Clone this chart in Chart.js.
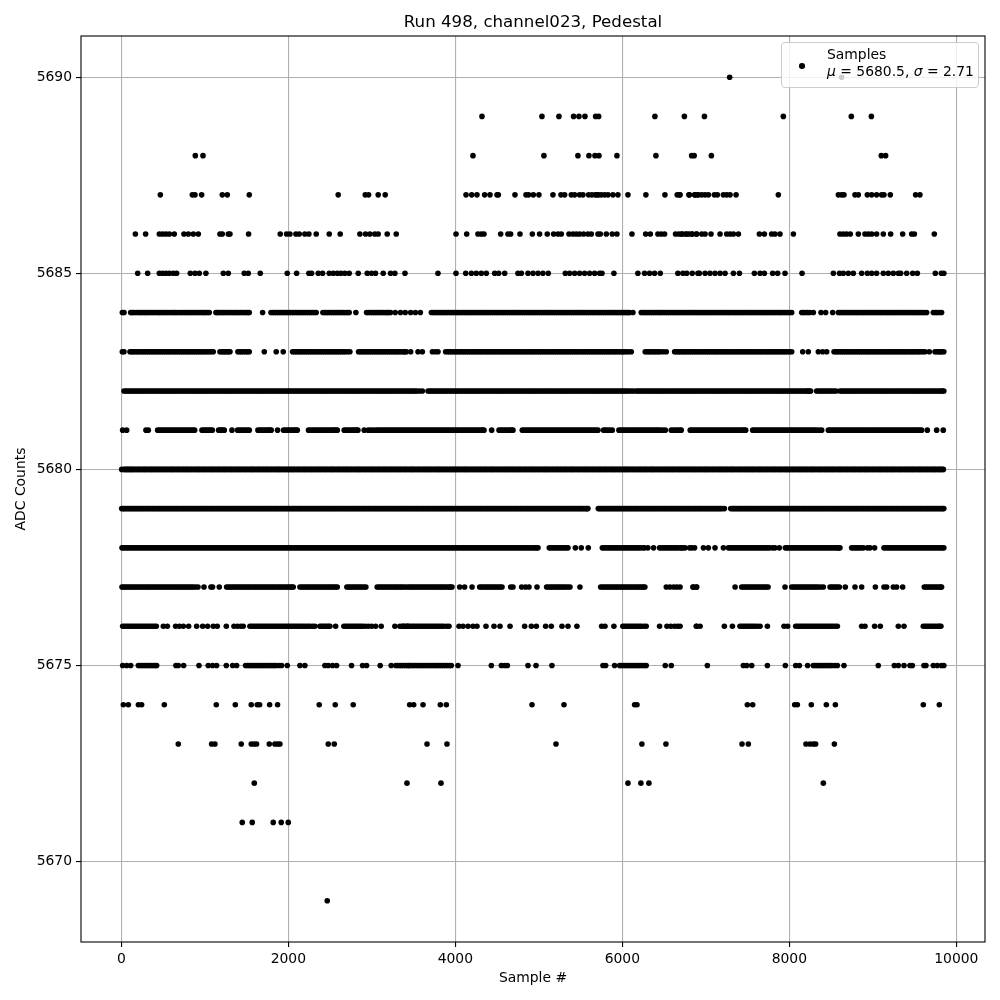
<!DOCTYPE html>
<html>
<head>
<meta charset="utf-8">
<title>Run 498, channel023, Pedestal</title>
<script src="https://cdn.jsdelivr.net/npm/chart.js@4"></script>
<style>
  body { margin: 0; background: #fff; }
  #wrap { position: relative; width: 1000px; height: 1000px; }
  #legend {
    position: absolute; left: 781px; top: 42px; width: 196px; height: 44px;
    border: 1px solid #ccc; border-radius: 4px; background: rgba(255,255,255,0.8);
    font: 13.9px "DejaVu Sans"; color: #000; line-height: 17px;
  }
  #legend .dot { position: absolute; left: 17px; top: 20px; width: 5.5px; height: 5.5px; border-radius: 50%; background: #000; }
  #legend .txt { position: absolute; left: 45px; top: 3px; white-space: nowrap; }
</style>
</head>
<body>
<div id="wrap">
  <canvas id="chart" width="1000" height="1000"></canvas>
  <div id="legend"><span class="dot"></span><div class="txt">Samples<br><i>μ</i> = 5680.5, <i>σ</i> = 2.71</div></div>
</div>
<script>
// tick labels
const xTicks = [0, 2000, 4000, 6000, 8000, 10000];
const yTicks = [5670, 5675, 5680, 5685, 5690];

// sample numbers, one list per ADC level
const s5690 = [7285, 8626];
const s5689 = [4319,5037,5241,5416,5480,5552,5680,5716,6390,6743,6983,7928,8742,8982];
const s5688 = [886,978,4211,5061,5468,5600,5672,5720,5935,6402,6830,6860,7066,9101,9153];
const s5687 = [467,850,882,962,1209,1269,1532,2597,2921,2961,3076,3160,4128,4196,4259,4351,4415,4499,4515,4714,4846,4878,4934,5001,5169,5265,5309,5389,5429,5488,5528,5596,5636,5676,5696,5716,5748,5788,5828,5887,5947,6067,6282,6510,6657,6685,6797,6865,6897,6691,6803,6871,6911,6951,6991,7031,7102,7138,7210,7250,7290,7362,7868,8587,8626,8654,8786,8826,8934,8986,9045,9105,9133,9209,9512,9564];
const s5686 = [168,291,455,495,535,575,634,750,802,862,922,1181,1209,1281,1301,1524,1903,1979,2019,2091,2131,2198,2246,2334,2490,2621,2857,2925,2977,3036,3076,3184,3292,4008,4136,4271,4311,4343,4543,4630,4662,4774,4922,5009,5101,5177,5229,5269,5361,5409,5449,5489,5536,5588,5628,5708,5736,5808,5879,5935,6115,6279,6335,6426,6466,6506,6637,6677,6717,6757,6797,6837,6885,6711,6771,6831,6891,6951,6991,7062,7170,7250,7290,7330,7390,7641,7701,7788,7828,7888,8048,8606,8646,8686,8730,8826,8906,8946,8986,9045,9125,9213,9357,9465,9497,9736];
const s5685 = [196,315,455,495,535,575,622,662,826,882,934,1013,1221,1281,1472,1520,1664,1987,2099,2246,2278,2358,2410,2490,2538,2586,2629,2677,2729,2837,2945,2997,3044,3136,3224,3276,3397,3792,4008,4124,4192,4251,4311,4371,4471,4519,4591,4750,4790,4870,4930,4990,5049,5113,5317,5369,5429,5488,5548,5608,5668,5728,5756,5899,6186,6266,6326,6386,6454,6665,6725,6771,6837,6905,6923,6991,7050,7110,7170,7230,7330,7402,7581,7649,7701,7800,7860,7948,8152,8527,8601,8646,8706,8766,8866,8934,8986,9045,9125,9185,9245,9305,9333,9405,9477,9533,9748,9820,9850];
const s5684 = [12,32,112,150,205,248,290,335,380,428,470,515,560,610,650,700,745,790,835,880,925,970,1010,1053,1133,1165,1190,1230,1275,1320,1365,1405,1450,1495,1532,1692,1792,1835,1880,1925,1970,2015,2060,2105,2150,2195,2240,2285,2334,2414,2460,2505,2550,2595,2640,2685,2729,2809,2937,2985,3030,3075,3120,3165,3200,3224,3280,3344,3400,3465,3521,3581,3713,3760,3805,3850,3895,3940,3985,4030,4075,4120,4165,4210,4255,4300,4345,4390,4435,4480,4525,4570,4615,4660,4705,4750,4795,4840,4885,4930,4975,5020,5065,5110,5155,5200,5245,5290,5335,5380,5425,5470,5515,5560,5605,5650,5695,5740,5785,5830,5875,5920,5965,6010,6050,6087,6127,6226,6270,6315,6360,6405,6450,6495,6540,6585,6630,6675,6720,6765,6810,6855,6900,6945,6990,7035,7080,7125,7170,7215,7260,7305,7350,7395,7440,7485,7530,7575,7620,7665,7710,7755,7800,7845,7890,7935,7980,8028,8148,8195,8245,8287,8379,8435,8519,8587,8630,8675,8720,8765,8810,8855,8900,8945,8990,9035,9080,9125,9170,9215,9260,9305,9350,9395,9440,9485,9530,9575,9620,9644,9724,9770,9823];
const more5684 = [130,178,228,270,312,358,405,450,492,538,585,630,675,722,768,812,858,902,948,990,1032,1150,1210,1252,1298,1342,1385,1428,1472,1515,1814,1858,1902,1948,1992,2038,2082,2128,2172,2218,2262,2310,2438,2482,2528,2572,2618,2662,2708,2960,3008,3052,3098,3142,3185,3736,3782,3828,3872,3918,3962,4008,4052,4098,4142,4188,4232,4278,4322,4368,4412,4458,4502,4548,4592,4638,4682,4728,4772,4818,4862,4908,4952,4998,5042,5088,5132,5178,5222,5268,5312,5358,5402,5448,5492,5538,5582,5628,5672,5718,5762,5808,5852,5898,5942,5988,6030,6068,6248,6292,6338,6382,6428,6472,6518,6562,6608,6652,6698,6742,6788,6832,6878,6922,6968,7012,7058,7102,7148,7192,7238,7282,7328,7372,7418,7462,7508,7552,7598,7642,7688,7732,7778,7822,7868,7912,7958,8004,8170,8220,8608,8652,8698,8742,8788,8832,8878,8922,8968,9012,9058,9102,9148,9192,9238,9282,9328,9372,9418,9462,9508,9552,9598,9748,9796];
const s5683 = [12,32,104,145,190,235,280,325,370,415,460,505,550,595,640,685,730,775,820,865,910,955,1000,1050,1101,1181,1225,1265,1301,1396,1440,1490,1532,1712,1855,1939,2051,2095,2140,2185,2230,2275,2320,2365,2410,2455,2500,2545,2590,2635,2680,2737,2841,2885,2930,2975,3020,3065,3110,3155,3200,3245,3290,3335,3380,3413,3465,3553,3605,3725,3760,3792,3884,3930,3975,4020,4065,4110,4155,4200,4245,4290,4335,4380,4425,4470,4515,4560,4605,4650,4695,4740,4785,4830,4875,4920,4965,5010,5055,5100,5145,5190,5235,5280,5325,5370,5415,5460,5505,5550,5595,5640,5685,5730,5775,5820,5865,5910,5955,6000,6045,6107,6274,6320,6365,6410,6455,6526,6626,6670,6715,6760,6805,6850,6895,6940,6985,7030,7075,7120,7165,7210,7255,7300,7345,7390,7435,7480,7525,7570,7615,7660,7705,7750,7795,7840,7885,7930,7975,8028,8160,8227,8347,8399,8447,8535,8580,8625,8670,8715,8760,8805,8850,8895,8940,8985,9030,9075,9120,9165,9210,9255,9300,9345,9390,9435,9480,9525,9570,9624,9676,9744,9790,9825,9850];
const more5683 = [125,168,212,258,302,348,392,438,482,528,572,618,662,708,752,798,842,888,932,978,1025,1075,1203,1245,1283,1418,1465,1511,2073,2118,2162,2208,2252,2298,2342,2388,2432,2478,2522,2568,2612,2658,2708,2863,2908,2952,2998,3042,3088,3132,3178,3222,3268,3312,3358,3396,3908,3952,3998,4042,4088,4132,4178,4222,4268,4312,4358,4402,4448,4492,4538,4582,4628,4672,4718,4762,4808,4852,4898,4942,4988,5032,5078,5122,5168,5212,5258,5302,5348,5392,5438,5482,5528,5572,5618,5662,5708,5752,5798,5842,5888,5932,5978,6022,6075,6298,6342,6388,6432,6490,6648,6692,6738,6782,6828,6872,6918,6962,7008,7052,7098,7142,7188,7232,7278,7322,7368,7412,7458,7502,7548,7592,7638,7682,7728,7772,7818,7862,7908,7952,8000,8558,8602,8648,8692,8738,8782,8828,8872,8918,8962,9008,9052,9098,9142,9188,9232,9278,9322,9368,9412,9458,9502,9548,9596,9767,9808];
const s5682 = [32,75,120,165,210,255,300,345,390,435,480,525,570,615,660,705,750,795,840,885,930,975,1020,1065,1110,1155,1200,1245,1290,1335,1380,1425,1470,1515,1560,1605,1650,1695,1740,1785,1830,1875,1920,1965,2010,2055,2100,2145,2190,2235,2280,2325,2370,2415,2460,2505,2550,2595,2640,2685,2730,2775,2820,2865,2910,2955,3000,3045,3090,3135,3180,3225,3270,3315,3360,3405,3450,3495,3540,3605,3673,3715,3760,3805,3850,3895,3940,3985,4030,4075,4120,4165,4210,4255,4300,4345,4390,4435,4480,4525,4570,4615,4660,4705,4750,4795,4840,4885,4930,4975,5020,5065,5110,5155,5200,5245,5290,5335,5380,5425,5470,5515,5560,5605,5650,5695,5740,5785,5830,5875,5920,5965,6010,6055,6107,6167,6212,6257,6302,6347,6392,6437,6482,6527,6572,6617,6662,6707,6752,6797,6842,6887,6932,6977,7022,7067,7112,7157,7202,7247,7292,7337,7382,7427,7472,7517,7562,7607,7652,7697,7742,7787,7832,7877,7922,7967,8012,8057,8102,8147,8192,8227,8255,8327,8372,8417,8462,8507,8559,8607,8650,8695,8740,8785,8830,8875,8920,8965,9010,9055,9100,9145,9190,9235,9280,9325,9370,9415,9460,9505,9550,9595,9640,9685,9730,9775,9820,9850];
const more5682 = [53,98,142,188,232,278,322,368,412,458,502,548,592,638,682,728,772,818,862,908,952,998,1042,1088,1132,1178,1222,1268,1312,1358,1402,1448,1492,1538,1582,1628,1672,1718,1762,1808,1852,1898,1942,1988,2032,2078,2122,2168,2212,2258,2302,2348,2392,2438,2482,2528,2572,2618,2662,2708,2752,2798,2842,2888,2932,2978,3022,3068,3112,3158,3202,3248,3292,3338,3382,3428,3472,3518,3572,3695,3738,3782,3828,3872,3918,3962,4008,4052,4098,4142,4188,4232,4278,4322,4368,4412,4458,4502,4548,4592,4638,4682,4728,4772,4818,4862,4908,4952,4998,5042,5088,5132,5178,5222,5268,5312,5358,5402,5448,5492,5538,5582,5628,5672,5718,5762,5808,5852,5898,5942,5988,6032,6080,6135,6190,6235,6280,6325,6370,6415,6460,6505,6550,6595,6640,6685,6730,6775,6820,6865,6910,6955,7000,7045,7090,7135,7180,7225,7270,7315,7360,7405,7450,7495,7540,7585,7630,7675,7720,7765,7810,7855,7900,7945,7990,8035,8080,8125,8170,8210,8240,8350,8395,8440,8485,8533,8628,8672,8718,8762,8808,8852,8898,8942,8988,9032,9078,9122,9168,9212,9258,9302,9348,9392,9438,9482,9528,9572,9618,9662,9708,9752,9798,9835];
const s5681 = [16,64,295,323,435,480,525,570,615,660,705,750,795,840,878,966,1010,1050,1089,1165,1200,1233,1325,1392,1440,1485,1532,1636,1680,1725,1765,1795,1871,1943,1990,2035,2075,2107,2242,2290,2335,2380,2425,2470,2515,2555,2586,2669,2715,2760,2800,2833,2909,2957,3016,3048,3095,3140,3185,3230,3275,3320,3365,3410,3455,3500,3545,3590,3635,3680,3725,3770,3815,3860,3905,3950,3995,4040,4085,4130,4175,4220,4265,4310,4343,4435,4523,4570,4615,4660,4690,4802,4850,4895,4940,4985,5030,5075,5120,5165,5210,5255,5300,5345,5390,5435,5480,5525,5570,5615,5660,5708,5776,5820,5879,5959,6005,6050,6095,6140,6185,6230,6275,6320,6365,6410,6455,6514,6586,6640,6691,6705,6813,6855,6900,6945,6990,7035,7080,7125,7170,7215,7260,7305,7350,7395,7440,7477,7561,7605,7650,7695,7740,7785,7830,7875,7920,7965,8010,8055,8100,8145,8190,8235,8280,8325,8387,8467,8510,8555,8600,8645,8690,8735,8780,8825,8870,8915,8960,9005,9050,9095,9140,9185,9230,9275,9320,9365,9410,9455,9500,9545,9584,9652,9764,9843];
const more5681 = [458,502,548,592,638,682,728,772,818,860,988,1030,1070,1182,1216,1416,1462,1510,1658,1702,1745,1780,1966,2012,2055,2091,2266,2312,2358,2402,2448,2492,2535,2570,2692,2738,2780,2816,2985,3072,3118,3162,3208,3252,3298,3342,3388,3432,3478,3522,3568,3612,3658,3702,3748,3792,3838,3882,3928,3972,4018,4062,4108,4152,4198,4242,4288,4326,4546,4592,4638,4675,4826,4872,4918,4962,5008,5052,5098,5142,5188,5232,5278,5322,5368,5412,5458,5502,5548,5592,5638,5684,5798,5850,5982,6028,6072,6118,6162,6208,6252,6298,6342,6388,6432,6485,6612,6665,6834,6878,6922,6968,7012,7058,7102,7148,7192,7238,7282,7328,7372,7418,7458,7583,7628,7672,7718,7762,7808,7852,7898,7942,7988,8032,8078,8122,8168,8212,8258,8302,8356,8488,8532,8578,8622,8668,8712,8758,8802,8848,8892,8938,8982,9028,9072,9118,9162,9208,9252,9298,9342,9388,9432,9478,9522,9565];
const s5680 = [4,30,60,90,120,150,185,215,250,280,310,345,375,410,440,470,505,535,570,600,630,665,695,730,760,790,825,855,890,920,950,985,1015,1050,1080,1110,1145,1175,1210,1240,1270,1305,1335,1370,1400,1430,1465,1495,1530,1560,1590,1625,1655,1690,1720,1750,1785,1815,1850,1880,1910,1945,1975,2010,2040,2070,2105,2135,2170,2200,2230,2265,2295,2330,2360,2390,2425,2455,2490,2520,2550,2585,2615,2650,2680,2710,2745,2775,2810,2840,2870,2905,2935,2970,3000,3030,3065,3095,3130,3160,3190,3225,3255,3290,3320,3350,3385,3415,3450,3480,3510,3545,3575,3610,3640,3670,3705,3735,3770,3800,3830,3865,3895,3930,3960,3990,4025,4055,4090,4120,4150,4185,4215,4250,4280,4310,4345,4375,4410,4440,4470,4505,4535,4570,4600,4630,4665,4695,4730,4760,4790,4825,4855,4890,4920,4950,4985,5015,5050,5080,5110,5145,5175,5210,5240,5270,5305,5335,5370,5400,5430,5465,5495,5530,5560,5590,5625,5655,5690,5720,5750,5785,5815,5850,5880,5910,5945,5975,6010,6040,6070,6105,6135,6170,6200,6230,6265,6295,6330,6360,6390,6425,6455,6490,6520,6550,6585,6615,6650,6680,6710,6745,6775,6810,6840,6870,6905,6935,6970,7000,7030,7065,7095,7130,7160,7190,7225,7255,7290,7320,7350,7385,7415,7450,7480,7510,7545,7575,7610,7640,7670,7705,7735,7770,7800,7830,7865,7895,7930,7960,7990,8025,8055,8090,8120,8150,8185,8215,8250,8280,8310,8345,8375,8410,8440,8470,8505,8535,8570,8600,8630,8665,8695,8730,8760,8790,8825,8855,8890,8920,8950,8985,9015,9050,9080,9110,9145,9175,9210,9240,9270,9305,9335,9370,9400,9430,9465,9495,9530,9560,9590,9625,9655,9690,9720,9750,9785,9815,9845];
const more5680 = [45,105,167,232,295,360,425,488,552,615,680,745,808,872,935,1000,1065,1128,1192,1255,1320,1385,1448,1512,1575,1640,1705,1768,1832,1895,1960,2025,2088,2152,2215,2280,2345,2408,2472,2535,2600,2665,2728,2792,2855,2920,2985,3048,3112,3175,3240,3305,3368,3432,3495,3560,3625,3688,3752,3815,3880,3945,4008,4072,4135,4200,4265,4328,4392,4455,4520,4585,4648,4712,4775,4840,4905,4968,5032,5095,5160,5225,5288,5352,5415,5480,5545,5608,5672,5735,5800,5865,5928,5992,6055,6120,6185,6248,6312,6375,6440,6505,6568,6632,6695,6760,6825,6888,6952,7015,7080,7145,7208,7272,7335,7400,7465,7528,7592,7655,7720,7785,7848,7912,7975,8040,8105,8168,8232,8295,8360,8425,8488,8552,8615,8680,8745,8808,8872,8935,9000,9065,9128,9192,9255,9320,9385,9448,9512,9575,9640,9705,9768,9830];
const again5680 = [75,135,200,265,328,392,457,520,585,648,712,777,840,905,968,1032,1097,1160,1225,1288,1352,1417,1480,1545,1608,1672,1737,1800,1865,1928,1992,2057,2120,2185,2248,2312,2377,2440,2505,2568,2632,2697,2760,2825,2888,2952,3017,3080,3145,3208,3272,3337,3400,3465,3528,3592,3657,3720,3785,3848,3912,3977,4040,4105,4168,4232,4297,4360,4425,4488,4552,4617,4680,4745,4808,4872,4937,5000,5065,5128,5192,5257,5320,5385,5448,5512,5577,5640,5705,5768,5832,5897,5960,6025,6088,6152,6217,6280,6345,6408,6472,6537,6600,6665,6728,6792,6857,6920,6985,7048,7112,7177,7240,7305,7368,7432,7497,7560,7625,7688,7752,7817,7880,7945,8008,8072,8137,8200,8265,8328,8392,8457,8520,8585,8648,8712,8777,8840,8905,8968,9032,9097,9160,9225,9288,9352,9417,9480,9545,9608,9672,9737,9800];
const s5679 = [4,35,70,105,140,175,210,245,280,315,350,385,420,455,490,525,560,595,630,665,700,735,770,805,840,875,910,945,980,1015,1050,1085,1120,1155,1190,1225,1260,1295,1330,1365,1400,1435,1470,1505,1540,1575,1610,1645,1680,1715,1750,1785,1820,1855,1890,1925,1960,1995,2030,2065,2100,2135,2170,2205,2240,2275,2310,2345,2380,2415,2450,2485,2520,2555,2590,2625,2660,2695,2730,2765,2800,2835,2870,2905,2940,2975,3010,3045,3080,3115,3150,3185,3220,3255,3290,3325,3360,3395,3430,3465,3500,3535,3570,3605,3640,3675,3710,3745,3780,3815,3850,3885,3920,3955,3990,4025,4060,4095,4130,4165,4200,4235,4270,4305,4340,4375,4410,4445,4480,4515,4550,4585,4620,4655,4690,4725,4760,4795,4830,4865,4900,4935,4970,5005,5040,5075,5110,5145,5180,5215,5250,5285,5320,5355,5390,5425,5460,5495,5530,5565,5588,5712,5745,5780,5815,5850,5885,5920,5955,5990,6025,6060,6095,6130,6165,6200,6235,6270,6305,6340,6375,6410,6445,6480,6515,6550,6585,6620,6655,6690,6725,6760,6795,6830,6865,6900,6935,6970,7005,7040,7075,7110,7145,7180,7222,7298,7335,7370,7405,7440,7475,7510,7545,7580,7615,7650,7685,7720,7755,7790,7825,7860,7895,7930,7965,8000,8035,8070,8105,8140,8175,8210,8245,8280,8315,8350,8385,8420,8455,8490,8525,8560,8595,8630,8665,8700,8735,8770,8805,8840,8875,8910,8945,8980,9015,9050,9085,9120,9155,9190,9225,9260,9295,9330,9365,9400,9435,9470,9505,9540,9575,9610,9645,9680,9715,9750,9785,9820,9850];
const more5679 = [20,88,158,228,298,368,438,508,578,648,718,788,858,928,998,1068,1138,1208,1278,1348,1418,1488,1558,1628,1698,1768,1838,1908,1978,2048,2118,2188,2258,2328,2398,2468,2538,2608,2678,2748,2818,2888,2958,3028,3098,3168,3238,3308,3378,3448,3518,3588,3658,3728,3798,3868,3938,4008,4078,4148,4218,4288,4358,4428,4498,4568,4638,4708,4778,4848,4918,4988,5058,5128,5198,5268,5338,5408,5478,5548,5728,5798,5868,5938,6008,6078,6148,6218,6288,6358,6428,6498,6568,6638,6708,6778,6848,6918,6988,7058,7128,7198,7318,7388,7458,7528,7598,7668,7738,7808,7878,7948,8018,8088,8158,8228,8298,8368,8438,8508,8578,8648,8718,8788,8858,8928,8998,9068,9138,9208,9278,9348,9418,9488,9558,9628,9698,9768,9835];
const again5679 = [52,122,192,262,332,402,472,542,612,682,752,822,892,962,1032,1102,1172,1242,1312,1382,1452,1522,1592,1662,1732,1802,1872,1942,2012,2082,2152,2222,2292,2362,2432,2502,2572,2642,2712,2782,2852,2922,2992,3062,3132,3202,3272,3342,3412,3482,3552,3622,3692,3762,3832,3902,3972,4042,4112,4182,4252,4322,4392,4462,4532,4602,4672,4742,4812,4882,4952,5022,5092,5162,5232,5302,5372,5442,5512,5576,5762,5832,5902,5972,6042,6112,6182,6252,6322,6392,6462,6532,6602,6672,6742,6812,6882,6952,7022,7092,7162,7352,7422,7492,7562,7632,7702,7772,7842,7912,7982,8052,8122,8192,8262,8332,8402,8472,8542,8612,8682,8752,8822,8892,8962,9032,9102,9172,9242,9312,9382,9452,9522,9592,9662,9732,9802];
const s5678 = [8,50,95,140,185,230,275,320,365,410,455,500,545,590,635,680,725,770,815,860,905,950,995,1040,1085,1130,1175,1220,1265,1310,1355,1400,1445,1490,1535,1580,1625,1670,1715,1760,1805,1850,1895,1940,1985,2030,2075,2120,2165,2210,2255,2300,2345,2390,2435,2480,2525,2570,2615,2660,2705,2750,2795,2840,2885,2930,2975,3020,3065,3110,3155,3200,3245,3290,3335,3380,3425,3470,3515,3560,3605,3650,3695,3740,3785,3830,3875,3920,3965,4010,4055,4100,4145,4190,4235,4280,4325,4370,4415,4460,4505,4550,4595,4640,4685,4730,4775,4820,4865,4910,4955,4990,5125,5170,5215,5260,5305,5349,5437,5508,5592,5760,5805,5850,5895,5940,5985,6030,6075,6120,6165,6210,6266,6306,6374,6446,6490,6535,6580,6625,6670,6725,6805,6865,6711,6751,6831,6971,7030,7110,7210,7270,7315,7360,7405,7450,7495,7540,7585,7630,7675,7720,7765,7828,7880,7952,7995,8040,8085,8130,8175,8220,8265,8310,8355,8400,8445,8490,8535,8580,8606,8746,8790,8835,8886,8934,8966,9021,9133,9180,9225,9270,9315,9360,9405,9450,9495,9540,9585,9630,9675,9720,9765,9810,9850];
const more5678 = [28,72,118,162,208,252,298,342,388,432,478,522,568,612,658,702,748,792,838,882,928,972,1018,1062,1108,1152,1198,1242,1288,1332,1378,1422,1468,1512,1558,1602,1648,1692,1738,1782,1828,1872,1918,1962,2008,2052,2098,2142,2188,2232,2278,2322,2368,2412,2458,2502,2548,2592,2638,2682,2728,2772,2818,2862,2908,2952,2998,3042,3088,3132,3178,3222,3268,3312,3358,3402,3448,3492,3538,3582,3628,3672,3718,3762,3808,3852,3898,3942,3988,4032,4078,4122,4168,4212,4258,4302,4348,4392,4438,4482,4528,4572,4618,4662,4708,4752,4798,4842,4888,4932,4970,5148,5192,5238,5282,5328,5782,5828,5872,5918,5962,6008,6052,6098,6142,6188,6240,6468,6512,6558,6602,6648,6698,7292,7338,7382,7428,7472,7518,7562,7608,7652,7698,7742,7800,7974,8018,8062,8108,8152,8198,8242,8288,8332,8378,8422,8468,8512,8558,8590,8768,8812,8860,9156,9202,9248,9292,9338,9382,9428,9472,9518,9562,9608,9652,9698,9742,9788,9830];
const s5677 = [8,50,95,140,185,230,275,320,365,410,455,500,545,590,635,680,725,770,815,860,918,990,1073,1093,1173,1261,1305,1350,1395,1440,1485,1530,1575,1620,1665,1710,1755,1800,1845,1890,1935,1980,2025,2059,2139,2185,2230,2275,2320,2365,2410,2455,2500,2545,2586,2701,2745,2790,2835,2880,2929,3064,3110,3155,3200,3245,3290,3335,3380,3435,3480,3525,3570,3615,3660,3705,3750,3795,3840,3885,3930,3960,4052,4111,4200,4291,4335,4380,4425,4470,4515,4559,4663,4690,4794,4840,4882,4978,5093,5140,5185,5230,5275,5320,5373,5492,5740,5785,5830,5875,5920,5965,6010,6055,6100,6145,6190,6235,6270,6526,6570,6615,6653,6845,6885,6691,6851,6891,7350,7429,7475,7520,7565,7610,7655,7700,7745,7948,8028,8075,8120,8165,8210,8255,8300,8345,8407,8487,8530,8575,8599,8670,8786,8866,9030,9133,9165,9245,9285,9357,9616,9660,9705,9750,9795,9823];
const more5677 = [28,72,118,162,208,252,298,342,388,432,478,522,568,612,658,702,748,792,838,888,1283,1328,1372,1418,1462,1508,1552,1598,1642,1688,1732,1778,1822,1868,1912,1958,2002,2042,2162,2208,2252,2298,2342,2388,2432,2478,2522,2565,2723,2768,2812,2858,2905,3087,3132,3178,3222,3268,3312,3358,3408,3458,3502,3548,3592,3638,3682,3728,3772,3818,3862,3908,3945,4313,4358,4402,4448,4492,4538,5116,5162,5208,5252,5298,5346,5762,5808,5852,5898,5942,5988,6032,6078,6122,6168,6212,6252,7452,7498,7542,7588,7632,7678,7722,8052,8098,8142,8188,8232,8278,8322,8376,8508,8552,9638,9682,9728,9772,9809];
const s5676 = [16,60,105,150,195,240,285,330,375,419,503,551,650,695,742,806,902,974,1033,1101,1149,1257,1349,1390,1430,1460,1540,1585,1630,1675,1720,1765,1810,1855,1900,1945,1990,2035,2080,2125,2170,2215,2260,2318,2378,2420,2460,2498,2566,2665,2710,2755,2800,2845,2890,2957,2997,3044,3112,3276,3336,3376,3428,3364,3410,3455,3500,3545,3590,3635,3680,3725,3770,3815,3860,3924,4044,4092,4152,4211,4259,4367,4463,4535,4655,4830,4910,4970,5081,5149,5277,5349,5456,5752,5792,5899,6006,6050,6095,6140,6185,6230,6286,6446,6534,6580,6625,6661,6885,6691,6891,6931,7222,7318,7409,7455,7500,7545,7590,7649,7737,7936,7980,8076,8120,8165,8210,8255,8300,8345,8390,8435,8480,8525,8575,8866,8906,9021,9089,9305,9373,9604,9650,9695,9740,9785,9815];
const more5676 = [38,82,128,172,218,262,308,352,398,1562,1608,1652,1698,1742,1788,1832,1878,1922,1968,2012,2058,2102,2148,2192,2238,2290,2399,2440,2480,2688,2732,2778,2822,2868,2920,3388,3432,3478,3522,3568,3612,3658,3702,3748,3792,3838,3895,6028,6072,6118,6162,6208,6260,7432,7478,7522,7568,7620,8098,8142,8188,8232,8278,8322,8368,8412,8458,8502,8550,9627,9672,9718,9762,9800];
const s5675 = [16,64,112,204,250,295,340,385,423,654,682,746,930,1041,1093,1141,1257,1333,1381,1488,1535,1580,1625,1670,1715,1760,1805,1850,1919,1987,2139,2198,2438,2478,2530,2578,2757,2889,2937,3100,3232,3288,3335,3380,3425,3455,3500,3545,3590,3635,3680,3725,3770,3815,3860,3905,3952,4032,4431,4551,4591,4623,4870,4966,5157,5768,5800,5907,5968,6015,6060,6105,6150,6195,6240,6286,6514,6586,7018,7449,7489,7549,7737,7952,8076,8120,8219,8287,8330,8375,8420,8465,8510,8575,8654,9065,9257,9305,9373,9445,9473,9612,9636,9724,9772,9823,9850];
const more5675 = [228,272,318,362,405,1512,1558,1602,1648,1692,1738,1782,1828,1885,3312,3358,3402,3440,3478,3522,3568,3612,3658,3702,3748,3792,3838,3882,3930,5990,6038,6082,6128,6172,6218,6265,8308,8352,8398,8442,8488,8545];
const s5674 = [24,84,204,243,515,1137,1365,1556,1628,1656,1776,1871,2370,2562,2777,3453,3501,3613,3820,3892,4918,5301,6147,6175,7497,7561,8064,8096,8263,8443,8551,9604,9796];
const s5673 = [682,1081,1121,1436,1556,1588,1620,1772,1839,1871,1899,2478,2550,3661,3900,5205,6234,6522,7433,7509,8199,8247,8287,8315,8539];
const s5672 = [1592,3421,3828,6067,6222,6318,8407];
const s5671 = [1448,1568,1819,1915,1999];
const s5669 = [2466];

const levels = [5690,5689,5688,5687,5686,5685,5684,5684,5683,5683,5682,5682,5681,5681,5680,5680,5680,5679,5679,5679,5678,5678,5677,5677,5676,5676,5675,5675,5674,5673,5672,5671,5669];
const samples = [s5690,s5689,s5688,s5687,s5686,s5685,s5684,more5684,s5683,more5683,s5682,more5682,s5681,more5681,s5680,more5680,again5680,s5679,more5679,again5679,s5678,more5678,s5677,more5677,s5676,more5676,s5675,more5675,s5674,s5673,s5672,s5671,s5669];

// one flat list of {x, y} for the scatter dataset
let points = [];
levels.forEach((level, i) => {
  for (let x of samples[i]) points.push({ x: x, y: level });
});

const fontName = '"DejaVu Sans"';
const tickFont = { family: fontName, size: 13.9 };

// axes box all the way round, matplotlib style
const frame = {
  id: "frame",
  afterDraw(chart) {
    let a = chart.chartArea;
    let ctx = chart.ctx;
    ctx.save();
    ctx.strokeStyle = "#000";
    ctx.lineWidth = 1.1;
    ctx.strokeRect(a.left, a.top, a.right - a.left, a.bottom - a.top);
    ctx.restore();
  }
};

new Chart(document.getElementById("chart"), {
  type: "scatter",
  data: {
    datasets: [{
      label: "Samples",
      data: points,
      backgroundColor: "#000",
      borderColor: "#000",
      borderWidth: 0,
      pointRadius: 2.8,
      pointHoverRadius: 2.8
    }]
  },
  options: {
    responsive: false,
    animation: false,
    layout: { padding: { left: 0, right: 15, top: 0, bottom: 0 } },
    plugins: {
      legend: { display: false },
      tooltip: { enabled: false },
      title: {
        display: true,
        fullSize: false,
        text: "Run 498, channel023, Pedestal",
        color: "#000",
        font: { family: fontName, size: 16.67, weight: "normal" },
        padding: { top: 13, bottom: 3 }
      }
    },
    scales: {
      x: {
        type: "linear",
        min: -483,
        max: 10343,
        afterBuildTicks: axis => { axis.ticks = xTicks.map(v => ({ value: v })); },
        afterFit: axis => { axis.height = 58; },
        grid: { color: "#b0b0b0", lineWidth: 1.1, tickColor: "#000", tickLength: 5, tickWidth: 1.1 },
        border: { display: false },
        ticks: { color: "#000", font: tickFont, padding: 4, maxRotation: 0, autoSkip: false, callback: v => String(v) },
        title: { display: true, text: "Sample #", color: "#000", font: tickFont, padding: { top: 0, bottom: 13 } }
      },
      y: {
        type: "linear",
        min: 5667.95,
        max: 5691.05,
        afterBuildTicks: axis => { axis.ticks = yTicks.map(v => ({ value: v })); },
        afterFit: axis => { axis.width = 81; },
        grid: { color: "#b0b0b0", lineWidth: 1.1, tickColor: "#000", tickLength: 5, tickWidth: 1.1 },
        border: { display: false },
        ticks: { color: "#000", font: tickFont, padding: 4, autoSkip: false, callback: v => String(v) },
        title: { display: true, text: "ADC Counts", color: "#000", font: tickFont, padding: { top: 13, bottom: 0 } }
      }
    }
  },
  plugins: [frame]
});
</script>
</body>
</html>
